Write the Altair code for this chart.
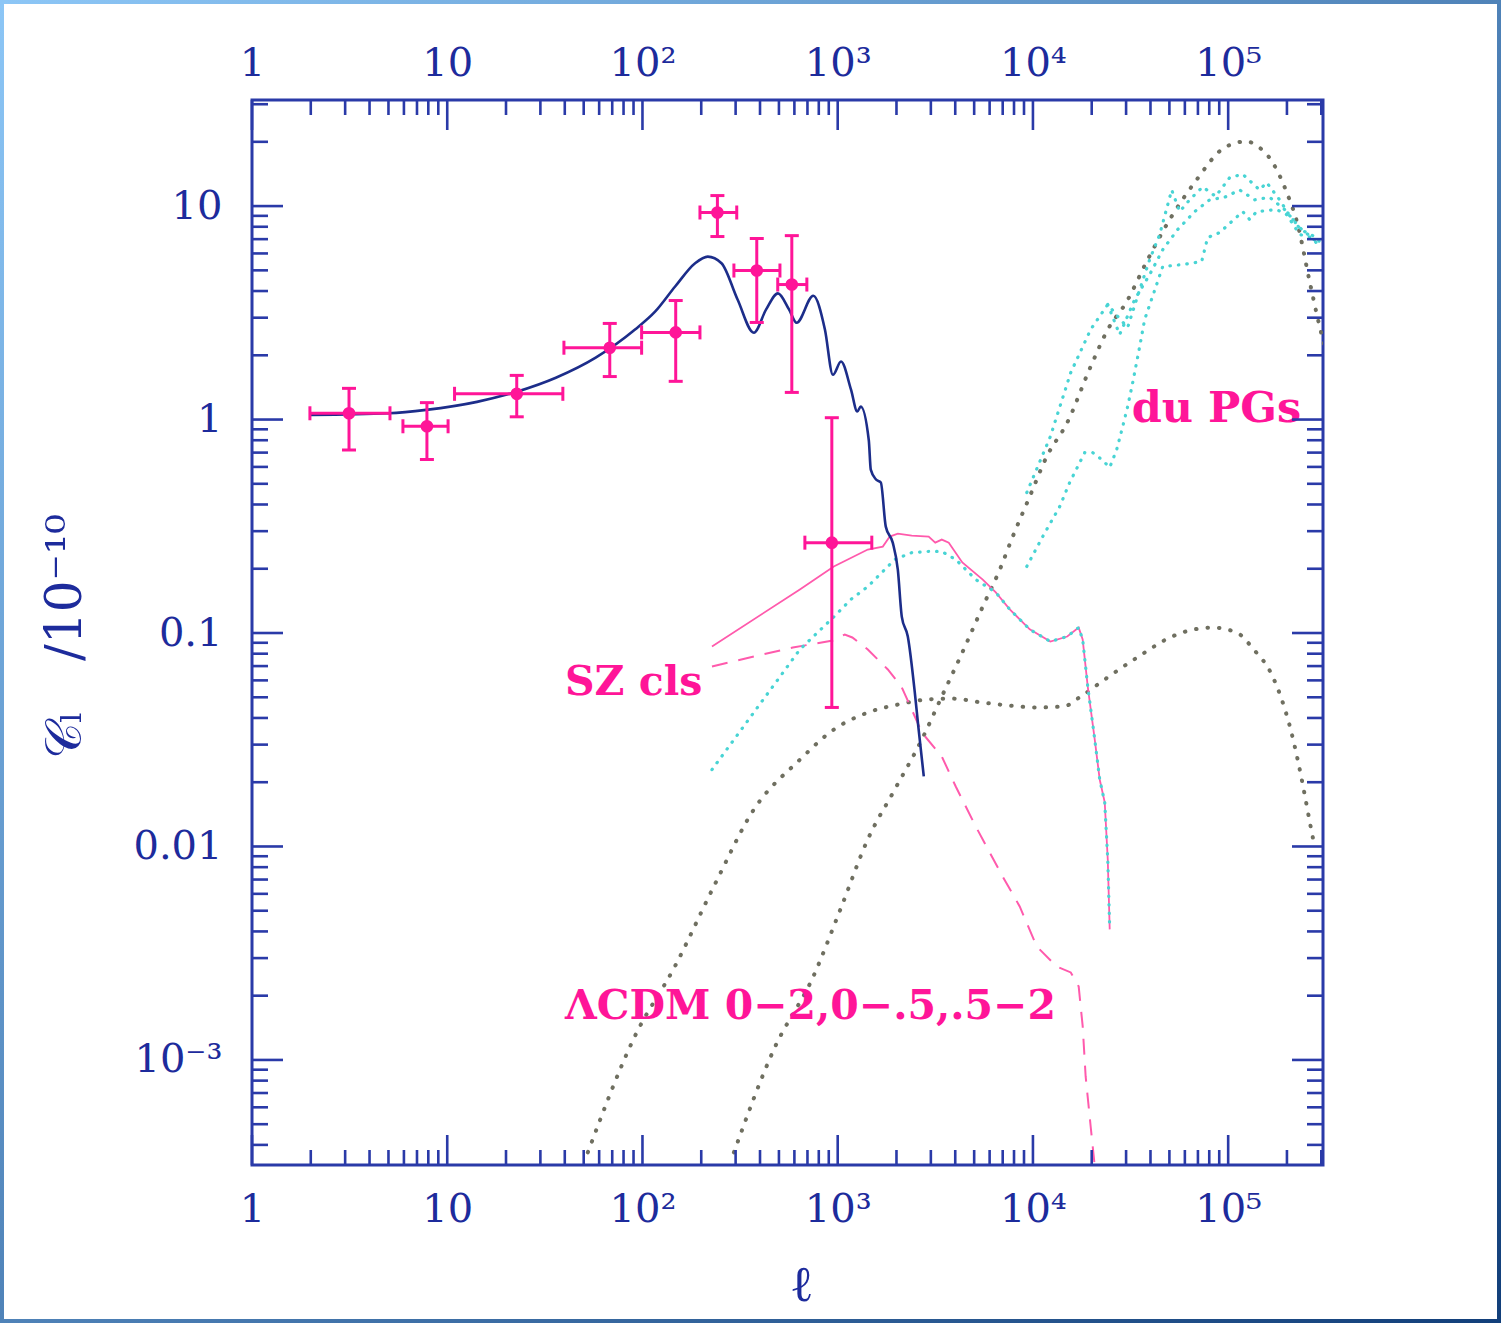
import altair as alt
import pandas as pd

# ---------------- data ----------------
# measured band powers (l, C_l/1e-10) with x and y error ranges
pt_l    = [3.14, 7.87, 22.7, 68, 148, 242, 385, 582, 933]
pt_c    = [1.07, 0.93, 1.32, 2.17, 2.56, 9.33, 4.99, 4.29, 0.265]
pt_l_lo = [1.98, 5.93, 10.9, 39.6, 99, 197, 294, 493, 679]
pt_l_hi = [5.09, 10.1, 39.1, 99, 197, 304, 506, 695, 1495]
pt_c_lo = [0.72, 0.65, 1.03, 1.59, 1.51, 7.2, 2.85, 1.34, 0.0448]
pt_c_hi = [1.40, 1.20, 1.61, 2.82, 3.61, 11.2, 7.05, 7.27, 1.02]

# primary CMB (navy solid)
cmb_l = [2, 5.0, 7.8, 14.2, 22.7, 36, 57.6, 91.6, 116, 147, 186, 216, 254, 307, 372, 430, 494,
         563, 616, 750, 860, 945, 1040, 1170, 1260, 1313, 1443, 1477, 1571, 1663, 1763, 1914,
         2032, 2130, 2286, 2483, 2587, 2760]
cmb_c = [1.05, 1.07, 1.11, 1.21, 1.35, 1.57, 1.95, 2.64, 3.2, 4.2, 5.4, 5.8, 5.4, 3.65, 2.55, 3.28,
         3.9, 3.28, 2.84, 3.8, 2.64, 1.62, 1.87, 1.38, 1.09, 1.15, 0.80, 0.583, 0.524, 0.507, 0.315,
         0.265, 0.198, 0.119, 0.0963, 0.0526, 0.0365, 0.0213]

# SZ clusters, z 0-2 (pink solid)
sz_l = [227, 640, 955, 1426, 1702, 1848, 2032, 2395, 2925, 3160, 3413, 3706, 4347, 5534, 6452,
        7610, 9630, 12280, 14990, 17150, 17980, 19080, 20630, 21980, 23320, 24170, 24730]
sz_c = [0.0865, 0.160, 0.205, 0.246, 0.254, 0.283, 0.292, 0.286, 0.283, 0.265, 0.274, 0.265,
        0.214, 0.178, 0.155, 0.129, 0.104, 0.0912, 0.0963, 0.106, 0.0932, 0.0562, 0.0328,
        0.0206, 0.0161, 0.00869, 0.00409]

# SZ clusters, z .5-2 (cyan dotted)
szb_l = [227, 640, 955, 1167, 1426, 1961, 2395, 2925, 3413, 4024, 5096, 6452, 7610, 9630, 12280,
         14990, 17150, 17980, 19080, 20630, 21980, 23320, 24170, 24730]
szb_c = [0.0229, 0.0837, 0.119, 0.1435, 0.165, 0.221, 0.238, 0.241, 0.241, 0.221, 0.178, 0.155,
         0.129, 0.104, 0.0912, 0.0963, 0.106, 0.0932, 0.0562, 0.0328, 0.0206, 0.0161, 0.00869,
         0.00409]

# SZ clusters, z 0-.5 (pink dashed)
sza_l = [227, 372, 589, 944, 1087, 1188, 1426, 1806, 2119, 2395, 2697, 3413, 4024, 5096, 7000,
         8555, 10460, 13240, 15620, 17150, 17980, 18620, 19750, 20630]
sza_c = [0.0697, 0.0776, 0.0855, 0.0922, 0.0984, 0.0953, 0.0837, 0.0675, 0.0562, 0.0438, 0.0342,
         0.0264, 0.0191, 0.0124, 0.00723, 0.00524, 0.00340, 0.00274, 0.00257, 0.00221, 0.00144,
         0.000837, 0.000489, 0.000331]

# grey dotted, double hump
g1_l = [52.5, 91.4, 146.5, 232, 372, 640, 955, 1426, 2032, 2925, 3838, 5534, 7610, 10460, 14370,
        17570, 23320, 34800, 51600, 71500, 83300, 110600, 135200, 165100, 185800, 209000, 227000,
        245400, 264500, 277200]
g1_c = [0.000369, 0.00129, 0.00274, 0.0065, 0.0149, 0.0255, 0.0353, 0.0424, 0.0462, 0.0489,
        0.0493, 0.0472, 0.0457, 0.0448, 0.0453, 0.0504, 0.0606, 0.0776, 0.0963, 0.105, 0.106,
        0.1005, 0.0837, 0.0653, 0.0504, 0.0353, 0.0255, 0.0179, 0.0124, 0.0100]

# grey dotted, big peak
g2_l = [294, 471, 750, 1032, 1426, 1961, 2697, 3413, 4347, 5534, 6761, 7880, 9630, 11770, 14990,
        19750, 24170, 30230, 38260, 50200, 67370, 95920, 124300, 139900, 169000, 199400, 227000,
        261400, 294000, 331000]
g2_c = [0.000369, 0.00112, 0.00246, 0.00507, 0.0108, 0.0185, 0.0317, 0.0504, 0.0810, 0.133, 0.198,
        0.283, 0.436, 0.671, 0.968, 1.77, 2.64, 3.57, 5.50, 8.65, 12.9, 18.8, 20.1, 19.2, 16.0,
        11.6, 8.19, 4.43, 2.73, 1.81]

# dusty protogalaxies (cyan dotted)
pga_l = [9300, 12280, 15620, 19750, 24170, 27180, 30560, 35230, 39630, 44590, 51380, 56450, 63500,
         74000, 86300, 101800, 118700, 145000, 157400, 183500, 201700, 235100, 277200, 304600]
pga_c = [0.455, 0.832, 1.66, 2.64, 3.46, 3.04, 2.70, 4.06, 5.62, 7.36, 11.9, 9.42, 10.7, 12.3,
         11.1, 13.6, 14.1, 11.9, 12.9, 10.7, 9.32, 7.76, 7.20, 6.6]
pgb_l = [9300, 11220, 13710, 15420, 18420, 20230, 22500, 24730, 26860, 28830, 30560, 32440, 35230,
         37350, 46240, 58480, 73180, 78500, 90400, 104200, 118700, 128800, 139900, 177100, 199400,
         232300, 267900, 294000]
pgb_c = [0.205, 0.283, 0.391, 0.507, 0.700, 0.700, 0.650, 0.596, 0.724, 0.927, 1.15, 1.49, 2.20,
         2.94, 5.21, 5.32, 5.50, 7.12, 7.51, 8.46, 9.42, 8.65, 9.42, 9.63, 9.12, 7.36, 7.12, 6.46]
pgc_l = [24170, 27800, 33200, 39630, 46240, 55100, 67370, 80400, 95920, 114500, 136700, 163000,
         194500, 232300, 287300]
pgc_c = [3.46, 2.50, 3.65, 4.78, 6.25, 7.76, 9.42, 10.7, 11.0, 11.9, 10.7, 11.0, 9.63, 7.93, 6.75]

# annotations
note_text = ["du PGs", "SZ cls", "\u039bCDM 0\u22122,0\u2212.5,.5\u22122"]
note_l    = [32060, 40.1, 40.1]
note_c    = [0.978, 0.0515, 0.00155]
note_size = [43, 41, 41]

# axes
X_DOMAIN = [1, 3.06e5]
Y_DOMAIN = [3.22e-4, 31.4]
X_MAJOR = [1, 10, 100, 1000, 10000, 100000]
Y_MAJOR = [0.001, 0.01, 0.1, 1, 10]
X_MINOR = [m * 10 ** k for k in range(0, 6) for m in range(2, 10) if m * 10 ** k <= X_DOMAIN[1]]
Y_MINOR = [m * 10.0 ** k for k in range(-4, 2) for m in range(2, 10)
           if Y_DOMAIN[0] <= m * 10.0 ** k <= Y_DOMAIN[1]]

# ---------------- styling ----------------
W, H = 1071, 1065
FRAME = "#2a3aa8"
LABEL = "#1d2b9c"
NAVY = "#1c2d8a"
MAGENTA = "#ff1598"
PINK = "#ff5aac"
CYAN = "#48d4d4"
GREY = "#6f6f60"
SERIF = "DejaVu Serif"

xs = alt.Scale(type="log", domain=X_DOMAIN, nice=False)
ys = alt.Scale(type="log", domain=Y_DOMAIN, nice=False)

XLAB = ("datum.value < 5 ? '1' : datum.value < 50 ? '10' : datum.value < 500 ? '10\u00b2' : "
        "datum.value < 5000 ? '10\u00b3' : datum.value < 50000 ? '10\u2074' : '10\u2075'")
YLAB = ("datum.value < 0.005 ? '10\u207b\u00b3' : datum.value < 0.05 ? '0.01' : "
        "datum.value < 0.5 ? '0.1' : datum.value < 5 ? '1' : '10'")


def ldf(ls, cs):
    return pd.DataFrame({"l": ls, "c": cs, "i": list(range(len(ls)))})


def line(ls, cs, **kw):
    return alt.Chart(ldf(ls, cs)).mark_line(clip=True, **kw).encode(
        x=alt.X("l:Q", scale=xs, axis=None),
        y=alt.Y("c:Q", scale=ys, axis=None),
        order="i:Q",
    )


layers = []

# grey dotted curves
GDOT = dict(color=GREY, strokeWidth=4, strokeDash=[0.5, 11], strokeCap="round",
            interpolate="monotone")
layers.append(line(g1_l, g1_c, **GDOT))
layers.append(line(g2_l, g2_c, **GDOT))

# SZ curves
layers.append(line(sza_l, sza_c, color=PINK, strokeWidth=2, strokeDash=[16, 11]))
layers.append(line(sz_l, sz_c, color=PINK, strokeWidth=1.8))
CDOT = dict(color=CYAN, strokeWidth=3.2, strokeDash=[0.5, 8], strokeCap="round")
layers.append(line(szb_l, szb_c, **CDOT))

# dusty protogalaxies
for ls, cs in [(pga_l, pga_c), (pgb_l, pgb_c), (pgc_l, pgc_c)]:
    layers.append(line(ls, cs, **CDOT))

# primary CMB curve carrying the bottom / left axes
cmb = alt.Chart(ldf(cmb_l, cmb_c)).mark_line(
    color=NAVY, strokeWidth=2.6, interpolate="monotone", clip=True
).encode(
    x=alt.X("l:Q", scale=xs, axis=alt.Axis(
        orient="bottom", values=X_MAJOR, labelExpr=XLAB, labelPadding=24, labelBaseline="top",
        labelFlush=False, labelOverlap=False, title="\u2113", titleFont=SERIF, titleFontSize=50,
        titleFontWeight="normal", titleColor=LABEL, titleX=549, titleY=135,
        titleBaseline="alphabetic")),
    y=alt.Y("c:Q", scale=ys, axis=alt.Axis(
        orient="left", values=Y_MAJOR, labelExpr=YLAB, labelPadding=30, labelFlush=False,
        labelOverlap=False, labelAlign="right", labelBaseline="middle",
        title="\U0001D49E\u2097\u2002\u2002/10\u207b\u00b9\u2070", titleFont=SERIF,
        titleFontSize=50, titleFontWeight="normal", titleColor=LABEL, titleAngle=270,
        titleX=-187, titleY=536, titleAlign="center", titleBaseline="middle")),
    order="i:Q",
)
layers.append(cmb)

# data points: error bars, caps, dots
pts = pd.DataFrame({"l": pt_l, "c": pt_c, "l_lo": pt_l_lo, "l_hi": pt_l_hi,
                    "c_lo": pt_c_lo, "c_hi": pt_c_hi})
layers.append(alt.Chart(pts).mark_rule(color=MAGENTA, strokeWidth=3).encode(
    x=alt.X("l_lo:Q", scale=xs, axis=None), x2="l_hi:Q", y=alt.Y("c:Q", scale=ys, axis=None)))
layers.append(alt.Chart(pts).mark_rule(color=MAGENTA, strokeWidth=3).encode(
    x=alt.X("l:Q", scale=xs, axis=None), y=alt.Y("c_lo:Q", scale=ys, axis=None), y2="c_hi:Q"))
xcaps = pd.DataFrame({"l": pt_l_lo + pt_l_hi, "c": pt_c + pt_c})
ycaps = pd.DataFrame({"l": pt_l + pt_l, "c": pt_c_lo + pt_c_hi})
layers.append(alt.Chart(xcaps).mark_tick(color=MAGENTA, thickness=3, size=14, orient="vertical",
                                         opacity=1).encode(
    x=alt.X("l:Q", scale=xs, axis=None), y=alt.Y("c:Q", scale=ys, axis=None)))
layers.append(alt.Chart(ycaps).mark_tick(color=MAGENTA, thickness=3, size=14, orient="horizontal",
                                         opacity=1).encode(
    x=alt.X("l:Q", scale=xs, axis=None), y=alt.Y("c:Q", scale=ys, axis=None)))
layers.append(alt.Chart(pts).mark_point(color=MAGENTA, filled=True, size=160, opacity=1).encode(
    x=alt.X("l:Q", scale=xs, axis=None), y=alt.Y("c:Q", scale=ys, axis=None)))

# annotations
notes = pd.DataFrame({"t": note_text, "l": note_l, "c": note_c})
for i in range(len(note_text)):
    layers.append(alt.Chart(notes.iloc[[i]]).mark_text(
        color=MAGENTA, font=SERIF, fontWeight="bold", fontSize=note_size[i], align="left",
        baseline="alphabetic").encode(
        x=alt.X("l:Q", scale=xs, axis=None), y=alt.Y("c:Q", scale=ys, axis=None), text="t:N"))

# inward ticks on all four sides
xmaj = pd.DataFrame({"v": X_MAJOR})
xmin = pd.DataFrame({"v": X_MINOR})
ymaj = pd.DataFrame({"v": Y_MAJOR})
ymin = pd.DataFrame({"v": Y_MINOR})
TW = 2.6
for df, ln in [(xmaj, 30), (xmin, 15)]:
    layers.append(alt.Chart(df).mark_rule(color=FRAME, strokeWidth=TW).encode(
        x=alt.X("v:Q", scale=xs, axis=None), y=alt.value(H), y2=alt.value(H - ln)))
top_axis = alt.Axis(orient="top", values=X_MAJOR, labelExpr=XLAB, labelPadding=25,
                    labelBaseline="alphabetic", labelFlush=False, labelOverlap=False, title=None)
layers.append(alt.Chart(xmaj).mark_rule(color=FRAME, strokeWidth=TW).encode(
    x=alt.X("v:Q", scale=xs, axis=top_axis), y=alt.value(0), y2=alt.value(30)))
layers.append(alt.Chart(xmin).mark_rule(color=FRAME, strokeWidth=TW).encode(
    x=alt.X("v:Q", scale=xs, axis=None), y=alt.value(0), y2=alt.value(15)))
for df, ln in [(ymaj, 31), (ymin, 16)]:
    layers.append(alt.Chart(df).mark_rule(color=FRAME, strokeWidth=TW).encode(
        y=alt.Y("v:Q", scale=ys, axis=None), x=alt.value(0), x2=alt.value(ln)))
    layers.append(alt.Chart(df).mark_rule(color=FRAME, strokeWidth=TW).encode(
        y=alt.Y("v:Q", scale=ys, axis=None), x=alt.value(W), x2=alt.value(W - ln)))

# picture border
border = alt.Chart(pd.DataFrame({"a": [0]})).mark_rect(
    fillOpacity=0, strokeWidth=4,
    stroke=alt.Gradient(gradient="linear", x1=0, y1=0, x2=1, y2=1,
                        stops=[alt.GradientStop(offset=0, color="#8cc6f6"),
                               alt.GradientStop(offset=1, color="#123f7a")])
).encode(x=alt.value(-250), x2=alt.value(W + 176), y=alt.value(-98), y2=alt.value(H + 156))
layers.append(border)

chart = alt.layer(*layers).resolve_axis(x="independent", y="independent").properties(
    width=W, height=H,
    padding={"left": 252, "top": 100, "right": 178, "bottom": 158},
    autosize=alt.AutoSizeParams(type="none"),
    background="white",
).configure_view(stroke=FRAME, strokeWidth=3).configure_axis(
    labelFont=SERIF, labelFontSize=40, labelColor=LABEL, labelFontWeight="normal",
    ticks=False, tickSize=0, domain=False, grid=False,
)

chart.save("out.html", embed_options={"renderer": "svg", "actions": False})
